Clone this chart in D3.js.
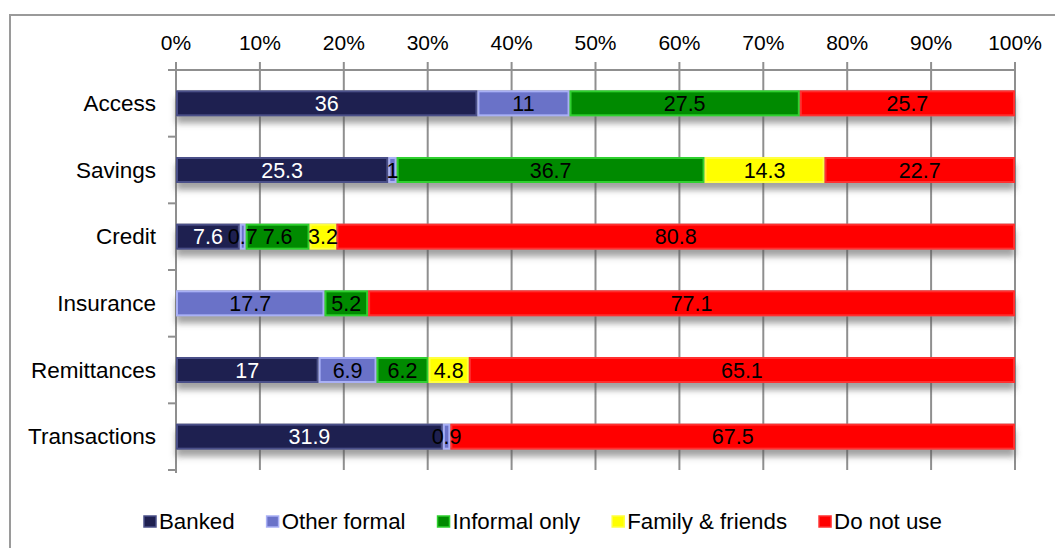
<!DOCTYPE html>
<html>
<head>
<meta charset="utf-8">
<script src="https://cdn.jsdelivr.net/npm/d3@7"></script>
<style>
  body { margin: 0; background: #fff; }
  text { font-family: "Liberation Sans", Arial, sans-serif; }
</style>
</head>
<body>
<script>
// chart data
const categories = ["Access", "Savings", "Credit", "Insurance", "Remittances", "Transactions"];
const seriesNames = ["Banked", "Other formal", "Informal only", "Family & friends", "Do not use"];
const banked      = [36, 25.3, 7.6, 0, 17, 31.9];
const otherFormal = [11, 1, 0.7, 17.7, 6.9, 0.9];
const informal    = [27.5, 36.7, 7.6, 5.2, 6.2, 0];
const family      = [0, 14.3, 3.2, 0, 4.8, 0];
const doNotUse    = [25.7, 22.7, 80.8, 77.1, 65.1, 67.5];
const tickValues  = [0, 0.1, 0.2, 0.3, 0.4, 0.5, 0.6, 0.7, 0.8, 0.9, 1];

const fills   = ["#1e2050", "#6a72c8", "#008a00", "#ffff00", "#ff0000"];
const strokes = ["#4a4f88", "#a9b0f5", "#2fd02f", "#ffff40", "#ff3030"];
const labelColors = ["#fff", "#000", "#000", "#000", "#000"];

const W = 1055, H = 548;
const margin = {left: 176, right: 40, top: 70, bottom: 78};

const svg = d3.select("body").append("svg").attr("width", W).attr("height", H);

// drop shadow under bars
const defs = svg.append("defs");
const f = defs.append("filter").attr("id", "shadow")
  .attr("x", "-5%").attr("y", "-50%").attr("width", "110%").attr("height", "220%");
f.append("feDropShadow").attr("dx", 0).attr("dy", 7).attr("stdDeviation", 3)
  .attr("flood-color", "#555").attr("flood-opacity", 0.55);

// outer chart border (runs off the page)
svg.append("rect").attr("x", 10).attr("y", 15).attr("width", 1100).attr("height", 600)
  .attr("fill", "none").attr("stroke", "#9a9a9a").attr("stroke-width", 2);

const x = d3.scaleLinear().domain([0, 1]).range([margin.left, W - margin.right]);
const y = d3.scaleBand().domain(categories).range([margin.top, 470]).paddingInner(0).paddingOuter(0);

const rows = categories.map((c, i) => {
  const vals = [banked[i], otherFormal[i], informal[i], family[i], doNotUse[i]];
  const obj = {category: c};
  seriesNames.forEach((s, k) => obj[s] = vals[k]);
  obj.total = d3.sum(vals);
  return obj;
});
const normRows = rows.map(r => {
  const o = {category: r.category};
  seriesNames.forEach(s => o[s] = r[s] / r.total);
  return o;
});
const stack = d3.stack().keys(seriesNames)(normRows);

// gridlines
svg.append("g").selectAll("line").data(tickValues).join("line")
  .attr("x1", d => x(d)).attr("x2", d => x(d))
  .attr("y1", 62).attr("y2", 470)
  .attr("stroke", "#8f8f8f").attr("stroke-width", 2);

// top axis line
svg.append("line").attr("x1", 168).attr("x2", x(1)).attr("y1", margin.top).attr("y2", margin.top)
  .attr("stroke", "#8f8f8f").attr("stroke-width", 2);

// left axis with ticks at category boundaries
svg.append("line").attr("x1", x(0)).attr("x2", x(0)).attr("y1", margin.top).attr("y2", 473)
  .attr("stroke", "#8f8f8f").attr("stroke-width", 2);
const bounds = categories.map(c => y(c)).concat([y(categories[categories.length - 1]) + y.bandwidth()]);
svg.append("g").selectAll("line").data(bounds).join("line")
  .attr("x1", 168).attr("x2", x(0)).attr("y1", d => d).attr("y2", d => d)
  .attr("stroke", "#8f8f8f").attr("stroke-width", 2);

// tick labels
svg.append("g").selectAll("text").data(tickValues).join("text")
  .attr("x", d => x(d)).attr("y", 50)
  .attr("text-anchor", "middle").attr("font-size", 21).attr("fill", "#000")
  .text(d3.format(".0%"));

// category labels
svg.append("g").selectAll("text").data(categories).join("text")
  .attr("x", 156).attr("y", d => y(d) + y.bandwidth() / 2 + 7.8)
  .attr("text-anchor", "end").attr("font-size", 22.5).attr("fill", "#000")
  .text(d => d);

// bars
const barH = 26;
const barOff = (y.bandwidth() - barH) / 2;
const barG = svg.append("g");
barG.append("g").attr("filter", "url(#shadow)").selectAll("rect").data(normRows).join("rect")
  .attr("x", x(0)).attr("width", x(1) - x(0))
  .attr("y", d => y(d.category) + barOff).attr("height", barH)
  .attr("fill", "#999");

stack.forEach((layer, k) => {
  barG.append("g").selectAll("rect").data(layer.filter(d => d[1] - d[0] > 0)).join("rect")
    .attr("x", d => x(d[0]) + 1).attr("width", d => Math.max(0, x(d[1]) - x(d[0]) - 2))
    .attr("y", d => y(d.data.category) + barOff + 1).attr("height", barH - 2)
    .attr("fill", fills[k]).attr("stroke", strokes[k]).attr("stroke-width", 2);
});

// value labels
stack.forEach((layer, k) => {
  const key = seriesNames[k];
  barG.append("g").selectAll("text").data(layer.filter(d => d[1] - d[0] > 0)).join("text")
    .attr("x", d => (x(d[0]) + x(d[1])) / 2)
    .attr("y", d => y(d.data.category) + y.bandwidth() / 2 + 7.5)
    .attr("text-anchor", "middle").attr("font-size", 21.5).attr("fill", labelColors[k])
    .text(d => rows[categories.indexOf(d.data.category)][key]);
});

// legend
const legend = svg.append("g");
let lx = 144;
seriesNames.forEach((s, k) => {
  legend.append("rect").attr("x", lx).attr("y", 516).attr("width", 12).attr("height", 11)
    .attr("fill", fills[k]).attr("stroke", strokes[k]).attr("stroke-width", 1.5);
  const t = legend.append("text").attr("x", lx + 15).attr("y", 529)
    .attr("font-size", 22.3).attr("fill", "#000").text(s);
  lx += 15 + t.node().getComputedTextLength() + 32;
});
</script>
</body>
</html>
